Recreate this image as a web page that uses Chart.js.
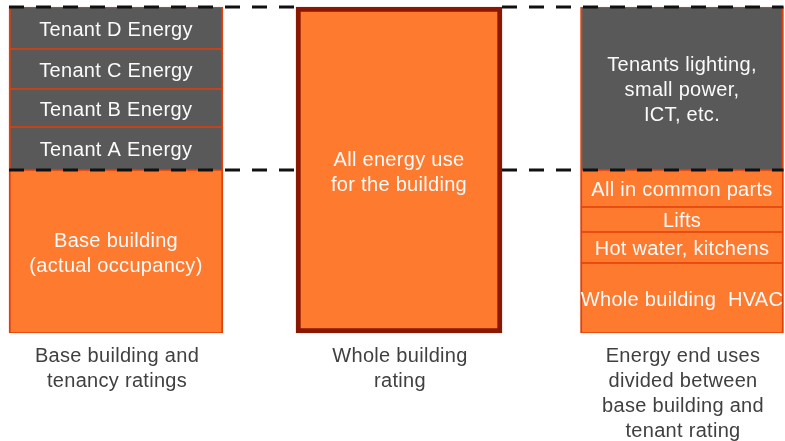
<!DOCTYPE html>
<html>
<head>
<meta charset="utf-8">
<script src="https://cdn.jsdelivr.net/npm/chart.js@4"></script>
<style>
  body { margin: 0; background: #fff; }
  #wrap { width: 785px; height: 441px; }
</style>
</head>
<body>
<div id="wrap"><canvas id="ratingChart"></canvas></div>
<script>
// ===================
// Dados
// ===================
const colunas = [
  ["Base building and", "tenancy ratings"],
  ["Whole building", "rating"],
  ["Energy end uses", "divided between", "base building and", "tenant rating"],
];

// coluna 1 (de baixo para cima)
const baseLabels = [
  ["Base building", "(actual occupancy)"],
  ["Tenant A Energy"],
  ["Tenant B Energy"],
  ["Tenant C Energy"],
  ["Tenant D Energy"],
];
const baseValores = [163, 43, 38, 40, 42];
const baseTipos = ["base", "tenant", "tenant", "tenant", "tenant"];

// coluna 2
const wholeLabel = ["All energy use", "for the building"];
const wholeValor = 326;

// coluna 3 (de baixo para cima)
const usosLabels = [
  ["Whole building  HVAC"],
  ["Hot water, kitchens"],
  ["Lifts"],
  ["All in common parts"],
  ["Tenants lighting,", "small power,", "ICT, etc."],
];
const usosValores = [70, 31, 25, 37, 163];
const usosTipos = ["base", "base", "base", "base", "tenant"];

const LARANJA = "#FE7A2F";
const CINZA = "#595959";
const FONTE = '"Liberation Sans", Arial, sans-serif';

// ===================
// Datasets
// ===================
const datasets = [];
baseValores.forEach((v, i) => {
  datasets.push({
    data: [v, null, null],
    texto: baseLabels[i],
    backgroundColor: baseTipos[i] === "tenant" ? CINZA : LARANJA,
    borderColor: "#E0400C",
    borderWidth: { top: 1, bottom: 1, left: 2, right: 2 },
    borderSkipped: false,
    barThickness: 214,
    clip: false,
  });
});
datasets.push({
  data: [null, wholeValor, null],
  texto: wholeLabel,
  backgroundColor: LARANJA,
  borderColor: "#8A1800",
  borderWidth: 5,
  borderSkipped: false,
  barThickness: 206,
  clip: false,
});
usosValores.forEach((v, i) => {
  datasets.push({
    data: [null, null, v],
    texto: usosLabels[i],
    backgroundColor: usosTipos[i] === "tenant" ? CINZA : LARANJA,
    borderColor: "#E0400C",
    borderWidth: { top: 1, bottom: 1, left: 2, right: 2 },
    borderSkipped: false,
    barThickness: 203,
    clip: false,
  });
});

// textos, linhas tracejadas e rótulos de baixo
const textosPlugin = {
  id: "textos",
  afterDatasetsDraw(chart) {
    const ctx = chart.ctx;
    const x = chart.scales.x;
    const y = chart.scales.y;

    // linhas tracejadas (topo e divisa tenant/base)
    const left = chart.getDatasetMeta(0).data[0];
    const mid = chart.getDatasetMeta(baseValores.length).data[1];
    const right = chart.getDatasetMeta(datasets.length - 1).data[2];
    const x0 = left.x - left.width / 2;
    const x3 = right.x + right.width / 2;
    const m0 = mid.x - mid.width / 2 - 2;
    const m1 = mid.x + mid.width / 2;
    ctx.save();
    ctx.strokeStyle = "#111";
    ctx.lineWidth = 3;
    ctx.setLineDash([15, 12]);
    [wholeValor, baseValores[0]].forEach((val) => {
      const py = y.getPixelForValue(val);
      ctx.beginPath();
      ctx.moveTo(x0, py);
      ctx.lineTo(m0, py);
      ctx.moveTo(m1, py);
      ctx.lineTo(x3, py);
      ctx.stroke();
    });
    ctx.restore();

    // textos dentro das barras
    ctx.save();
    ctx.fillStyle = "#FAFAFA";
    ctx.font = "20px " + FONTE;
    ctx.textAlign = "center";
    ctx.textBaseline = "middle";
    ctx.letterSpacing = "0.3px";
    chart.data.datasets.forEach((ds, di) => {
      chart.getDatasetMeta(di).data.forEach((el, i) => {
        if (ds.data[i] == null) return;
        const cy = (el.y + el.base) / 2 + (i === 1 ? 3 : 2);
        const n = ds.texto.length;
        ds.texto.forEach((linha, k) => {
          ctx.fillText(linha, el.x, cy + (k - (n - 1) / 2) * 25);
        });
      });
    });

    // rótulos abaixo
    ctx.fillStyle = "#404040";
    const y0 = y.getPixelForValue(0);
    colunas.forEach((linhas, i) => {
      const px = x.getPixelForValue(i);
      linhas.forEach((linha, k) => {
        ctx.fillText(linha, px + 1, y0 + 23 + k * 25);
      });
    });
    ctx.restore();
  },
};

new Chart(document.getElementById("ratingChart"), {
  type: "bar",
  data: {
    labels: colunas.map((c) => c.join(" ")),
    datasets: datasets,
  },
  options: {
    responsive: true,
    maintainAspectRatio: false,
    animation: false,
    layout: { padding: { left: 116, right: 103, top: 7, bottom: 108 } },
    plugins: { legend: { display: false }, tooltip: { enabled: false } },
    scales: {
      x: { display: false, stacked: true, offset: false },
      y: { display: false, stacked: true, min: 0, max: wholeValor },
    },
  },
  plugins: [textosPlugin],
});
</script>
</body>
</html>
